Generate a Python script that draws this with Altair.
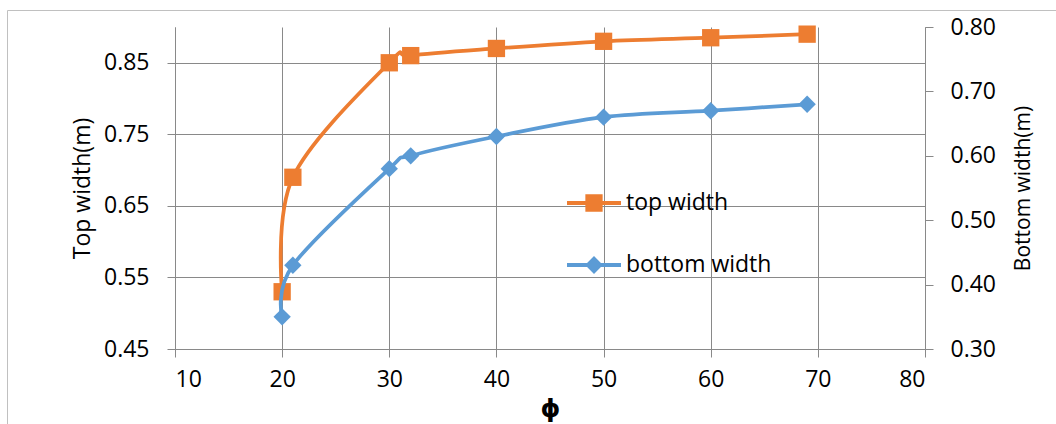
import altair as alt
import pandas as pd

# Measured widths versus the angle phi
phi = [20, 21, 30, 32, 40, 50, 60, 69]
top_width = [0.53, 0.69, 0.85, 0.86, 0.87, 0.88, 0.885, 0.89]
bottom_width = [0.35, 0.43, 0.58, 0.60, 0.63, 0.66, 0.67, 0.68]

TOP_NAME, BOT_NAME = "top width", "bottom width"
TOP_COLOR, BOT_COLOR = "#ED7D31", "#5B9BD5"

x_ticks = [10, 20, 30, 40, 50, 60, 70, 80]
left_ticks = [0.45, 0.55, 0.65, 0.75, 0.85]
right_ticks = [0.30, 0.40, 0.50, 0.60, 0.70, 0.80]

top_df = pd.DataFrame({"phi": phi, "value": top_width, "series": TOP_NAME})
bot_df = pd.DataFrame({"phi": phi, "value": bottom_width, "series": BOT_NAME})

FONT = "Open Sans"
LABEL_SIZE = 23
GRID = "#898989"
W, H = 750, 322
PAD_L, PAD_T = 175, 27

# Legend symbols: a line segment with the series marker on it
SQUARE_SYM = "M-1,-0.072H1V0.072H-1Z M-0.32,-0.32H0.32V0.32H-0.32Z"
DIAMOND_SYM = "M-1,-0.072H1V0.072H-1Z M-0.33,0L0,-0.33L0.33,0L0,0.33Z"


def series_legend(symbol, y):
    return alt.Legend(
        title=None,
        orient="none",
        legendX=392,
        legendY=y,
        padding=0,
        symbolType=symbol,
        symbolSize=2916,
        symbolStrokeWidth=0,
        symbolOpacity=1,
        labelFont=FONT,
        labelFontSize=LABEL_SIZE,
        labelColor="#000000",
        labelOffset=5,
    )


x_enc = alt.X(
    "phi:Q",
    scale=alt.Scale(domain=[10, 80], nice=False, zero=False),
    axis=alt.Axis(
        values=x_ticks,
        title="ϕ",
        grid=True,
        gridColor=GRID,
        domainColor=GRID,
        tickColor=GRID,
        tickSize=8,
        labelPadding=11,
        labelFont=FONT,
        labelFontSize=LABEL_SIZE,
        labelColor="#000000",
        titleFont="DejaVu Sans",
        titleFontSize=25,
        titleFontWeight="bold",
        titleColor="#000000",
        titleY=59,
        titleBaseline="middle",
    ),
)

y_left = alt.Y(
    "value:Q",
    scale=alt.Scale(domain=[0.45, 0.90], nice=False, zero=False),
    axis=alt.Axis(
        orient="left",
        values=left_ticks,
        format=".2f",
        title="Top width(m)",
        grid=True,
        gridColor=GRID,
        domainColor=GRID,
        tickColor=GRID,
        tickSize=8,
        labelPadding=18,
        labelFont=FONT,
        labelFontSize=LABEL_SIZE,
        labelColor="#000000",
        titleFont=FONT,
        titleFontSize=23,
        titleFontWeight="normal",
        titleColor="#000000",
        titleAngle=270,
        titleBaseline="middle",
        titleX=-93,
    ),
)

y_right = alt.Y(
    "value:Q",
    scale=alt.Scale(domain=[0.30, 0.80], nice=False, zero=False),
    axis=alt.Axis(
        orient="right",
        values=right_ticks,
        format=".2f",
        title="Bottom width(m)",
        grid=False,
        domainColor=GRID,
        tickColor=GRID,
        tickSize=8,
        labelPadding=17,
        labelFont=FONT,
        labelFontSize=LABEL_SIZE,
        labelColor="#000000",
        titleFont=FONT,
        titleFontSize=21,
        titleFontWeight="normal",
        titleColor="#000000",
        titleAngle=270,
        titleBaseline="middle",
        titleX=98,
    ),
)

# Light frame around the whole figure
frame = alt.Chart(pd.DataFrame({"k": [0]})).mark_rect(
    fill="transparent", stroke="#C0C0C0", strokeWidth=1
).encode(
    x=alt.value(7.5 - PAD_L),
    x2=alt.value(1070 - PAD_L),
    y=alt.value(10.5 - PAD_T),
    y2=alt.value(440 - PAD_T),
)

top_color = alt.Color(
    "series:N",
    scale=alt.Scale(domain=[TOP_NAME], range=[TOP_COLOR]),
    legend=series_legend(SQUARE_SYM, 149),
)
bot_color = alt.Color(
    "series:N",
    scale=alt.Scale(domain=[BOT_NAME], range=[BOT_COLOR]),
    legend=series_legend(DIAMOND_SYM, 211),
)

top_line = alt.Chart(top_df).mark_line(
    interpolate="cardinal", strokeWidth=3.75, color=TOP_COLOR
).encode(x=x_enc, y=y_left)
top_pts = alt.Chart(top_df).mark_point(
    shape="square", filled=True, size=300, opacity=1
).encode(x=x_enc, y=y_left, color=top_color)

bot_line = alt.Chart(bot_df).mark_line(
    interpolate="cardinal", strokeWidth=3.75, color=BOT_COLOR
).encode(x=x_enc, y=y_right)
bot_pts = alt.Chart(bot_df).mark_point(
    shape="diamond", filled=True, size=300, opacity=1
).encode(x=x_enc, y=y_right, color=bot_color)

left = alt.layer(frame, top_line, top_pts)
right = alt.layer(bot_line, bot_pts)

chart = (
    alt.layer(left, right)
    .resolve_scale(y="independent", color="independent")
    .resolve_legend(color="independent")
    .properties(
        width=W,
        height=H,
        autosize=alt.AutoSizeParams(type="none"),
        padding={"left": PAD_L, "top": PAD_T, "right": 1056 - PAD_L - W, "bottom": 424 - PAD_T - H},
        background="#FFFFFF",
    )
    .configure_view(stroke=None)
)

chart.save("out.html", embed_options={"renderer": "svg", "actions": False})
